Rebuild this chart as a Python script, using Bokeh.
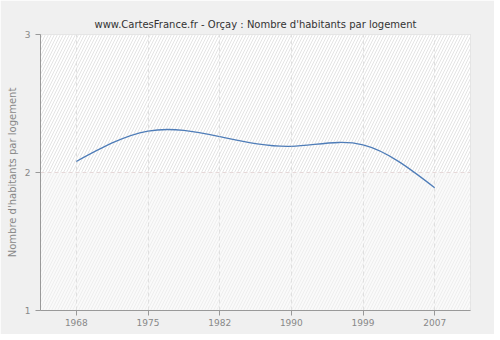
import numpy as np
from bokeh.plotting import figure
from bokeh.models import FixedTicker, BoxAnnotation
from bokeh.embed import file_html
from bokeh.resources import INLINE

years = ["1968", "1975", "1982", "1990", "1999", "2007"]
values = [2.08, 2.30, 2.26, 2.19, 2.20, 1.89]
y_ticks = [1, 2, 3]

FONT = "DejaVu Sans"

p = figure(width=494, height=334, output_backend="svg", toolbar_location=None,
           x_range=(-0.5, len(years) - 0.5), y_range=(1, 3),
           min_border_left=40, min_border_right=24, min_border_top=34, min_border_bottom=24)
p.border_fill_color = "#f0f0f0"
p.background_fill_color = "#ffffff"
p.outline_line_color = "#dcdcdc"

p.title.text = "www.CartesFrance.fr - Orçay : Nombre d'habitants par logement"
p.title.align = "center"
p.title.text_font = FONT
p.title.text_font_size = "10px"
p.title.text_font_style = "normal"
p.title.text_color = "#333333"
p.title.standoff = 9

# hatched background
p.add_layout(BoxAnnotation(bottom=2, fill_color="#ffffff", fill_alpha=1, line_alpha=0,
                           hatch_pattern="/", hatch_color="#e4e4e4", hatch_scale=6,
                           hatch_weight=1, level="image"))
p.add_layout(BoxAnnotation(top=2, fill_color="#fafafa", fill_alpha=1, line_alpha=0,
                           hatch_pattern="/", hatch_color="#eeeeee", hatch_scale=6,
                           hatch_weight=1, level="image"))

xs = np.arange(len(values), dtype=float)
ys = np.array(values, dtype=float)

# natural cubic spline -> bezier segments
n = len(ys)
A = np.zeros((n, n)); b = np.zeros(n)
A[0, 0] = 1; A[-1, -1] = 1
for i in range(1, n - 1):
    A[i, i - 1] = 1; A[i, i] = 4; A[i, i + 1] = 1
    b[i] = 6 * (ys[i + 1] - 2 * ys[i] + ys[i - 1])
M = np.linalg.solve(A, b)
d0 = (ys[1:] - ys[:-1]) - (2 * M[:-1] + M[1:]) / 6
d1 = (ys[1:] - ys[:-1]) + (M[:-1] + 2 * M[1:]) / 6
p.bezier(x0=xs[:-1], y0=ys[:-1], x1=xs[1:], y1=ys[1:],
         cx0=xs[:-1] + 1 / 3, cy0=ys[:-1] + d0 / 3,
         cx1=xs[1:] - 1 / 3, cy1=ys[1:] - d1 / 3,
         line_color="#4f7db8", line_width=1.3)

# axes
p.xaxis.ticker = FixedTicker(ticks=list(range(len(years))))
p.xaxis.major_label_overrides = {i: y for i, y in enumerate(years)}
p.yaxis.ticker = FixedTicker(ticks=y_ticks)
p.yaxis.axis_label = "Nombre d'habitants par logement"
for ax in (p.xaxis, p.yaxis):
    ax.axis_line_color = "#999999"
    ax.major_tick_line_color = "#999999"
    ax.major_tick_in = 0
    ax.major_tick_out = 5
    ax.minor_tick_line_color = None
    ax.major_label_text_font = FONT
    ax.major_label_text_font_size = "9px"
    ax.major_label_text_color = "#888888"
    ax.axis_label_text_font = FONT
    ax.axis_label_text_font_size = "10px"
    ax.axis_label_text_font_style = "normal"
    ax.axis_label_text_color = "#888888"
p.yaxis.axis_label_standoff = 4
p.xaxis.major_label_standoff = 3

p.xgrid.grid_line_color = "#e0e0e0"
p.xgrid.grid_line_dash = "4 3"
p.ygrid.grid_line_color = "#e6d9d9"
p.ygrid.grid_line_dash = "4 3"
p.xgrid.level = "underlay"
p.ygrid.level = "underlay"

open("out.html", "w").write(file_html(p, INLINE))
